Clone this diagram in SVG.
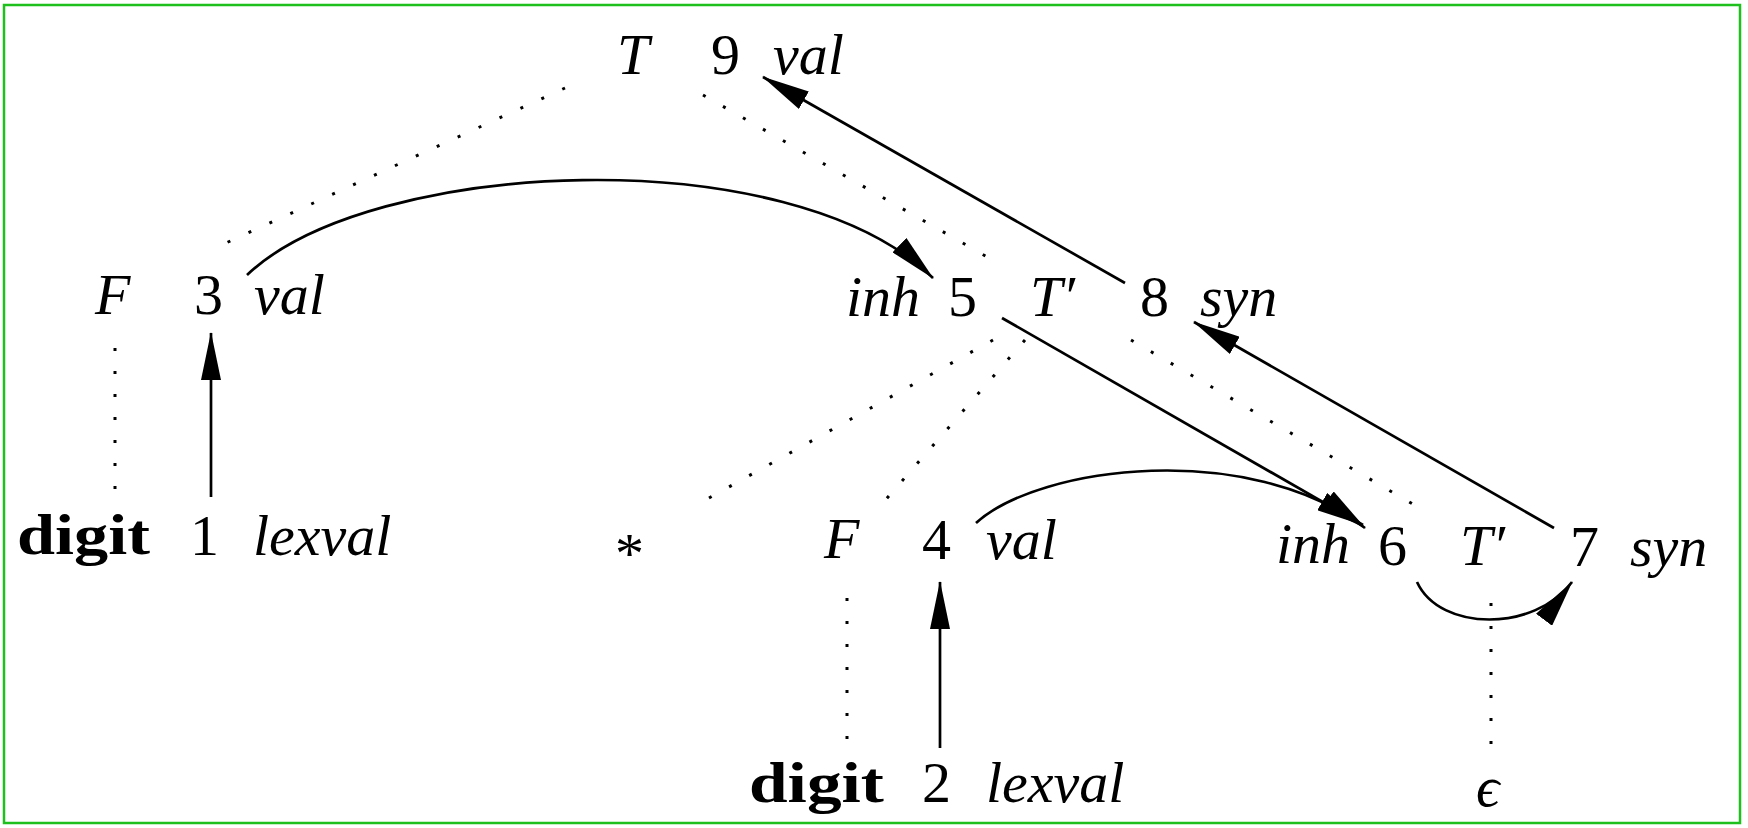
<svg xmlns="http://www.w3.org/2000/svg" width="1748" height="828" viewBox="0 0 1748 828">
<defs>
<style>
text{font-family:"Liberation Serif","DejaVu Serif",serif;font-size:58px;fill:#000}
.i{font-style:italic}
.b{font-weight:bold}
.dot{fill:none;stroke:#000;stroke-width:3;stroke-dasharray:3 20}
.arr{fill:none;stroke:#000;stroke-width:2.7;marker-end:url(#ah)}
</style>
<marker id="ah" markerUnits="userSpaceOnUse" markerWidth="48" markerHeight="20" refX="47" refY="10" orient="auto">
<path d="M0,0 L48,10 L0,20 z" fill="#000"/>
</marker>
</defs>
<rect x="4" y="5" width="1736" height="818" fill="#fff" stroke="#1ec01e" stroke-width="2.5"/>
<g id="connectors">
<line class="dot" x1="565" y1="88" x2="215" y2="248"/>
<line class="dot" x1="703" y1="95" x2="996" y2="262"/>
<line class="dot" x1="993" y1="340" x2="700" y2="503"/>
<line class="dot" x1="1025" y1="340" x2="881" y2="505"/>
<line class="dot" x1="1131" y1="340" x2="1423" y2="510"/>
<line class="dot" x1="115" y1="348" x2="115" y2="495"/>
<line class="dot" x1="847" y1="598" x2="847" y2="745"/>
<line class="dot" x1="1491" y1="603" x2="1491" y2="752"/>
<line class="arr" x1="211" y1="497" x2="211" y2="333"/>
<line class="arr" x1="940" y1="748" x2="940" y2="582"/>
<line class="arr" x1="1125" y1="283" x2="763" y2="77"/>
<line class="arr" x1="1554" y1="528" x2="1194" y2="322"/>
<line class="arr" x1="1002" y1="318" x2="1363" y2="525"/>
<path class="arr" d="M247,275 C370,158 790,138 933,278"/>
<path class="arr" d="M976,523 C1040,465 1250,440 1365,528"/>
<path class="arr" d="M1417,582 C1440,632 1535,632 1572,582"/>
</g>
<g id="node-T"><text class="i" x="617" y="74">T</text><text x="711" y="74">9</text><text class="i" x="773" y="74">val</text></g>
<g id="node-F1"><text class="i" x="95" y="314">F</text><text x="194" y="314">3</text><text class="i" x="254" y="314">val</text></g>
<g id="node-Tp1"><text class="i" x="846" y="316">inh</text><text x="948" y="316">5</text><text class="i" x="1030" y="316">T′</text><text x="1140" y="316">8</text><text class="i" x="1200" y="316">syn</text></g>
<g id="node-digit1"><text class="b" x="17" y="554" textLength="133" lengthAdjust="spacingAndGlyphs">digit</text><text x="190" y="555">1</text><text class="i" x="253" y="555">lexval</text></g>
<g id="node-star"><text x="615" y="573">*</text></g>
<g id="node-F2"><text class="i" x="824" y="558">F</text><text x="922" y="559">4</text><text class="i" x="986" y="559">val</text></g>
<g id="node-Tp2"><text class="i" x="1276" y="563">inh</text><text x="1378" y="565">6</text><text class="i" x="1460" y="565">T′</text><text x="1570" y="566">7</text><text class="i" x="1630" y="566">syn</text></g>
<g id="node-digit2"><text class="b" x="749" y="802" textLength="135" lengthAdjust="spacingAndGlyphs">digit</text><text x="922" y="802">2</text><text class="i" x="986" y="802">lexval</text></g>
<g id="node-eps"><text class="i" x="1476" y="806">ϵ</text></g>
</svg>
